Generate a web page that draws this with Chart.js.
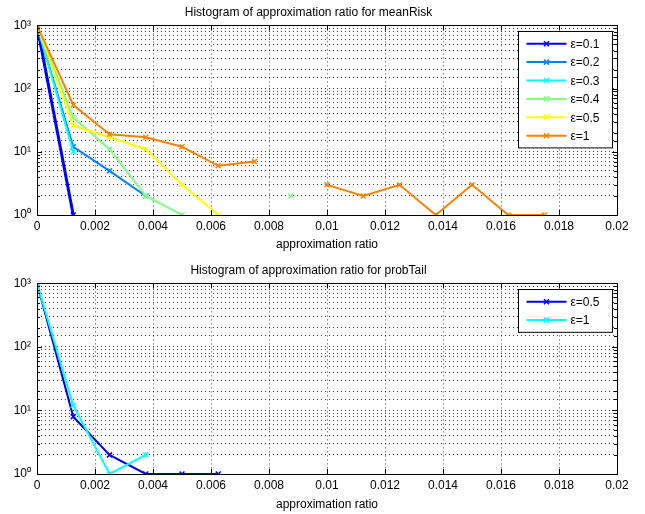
<!DOCTYPE html>
<html>
<head>
<meta charset="utf-8">
<script src="https://cdn.jsdelivr.net/npm/chart.js@4.4.1/dist/chart.umd.min.js"></script>
<style>
  html, body { margin: 0; padding: 0; background: #fff; }
  .wrap { position: absolute; left: 0; width: 645px; height: 257px; }
  #w1 { top: 0; }
  #w2 { top: 257px; }
</style>
</head>
<body>
<div class="wrap" id="w1"><canvas id="c1" width="645" height="257"></canvas></div>
<div class="wrap" id="w2"><canvas id="c2" width="645" height="257"></canvas></div>
<script>
// histogram bin centres (approximation ratio)
const bins = [0, 0.00125, 0.0025, 0.00375, 0.005, 0.00625, 0.0075, 0.00875,
              0.01, 0.01125, 0.0125, 0.01375, 0.015, 0.01625, 0.0175];

// meanRisk counts (null = empty bin, not drawn on log axis)
const mrEps01 = [1000, 1, null, null, null, null, null, null, null, null, null, null, null, null, null];
const mrEps02 = [1000, 12, 5, 2, null, null, null, null, null, null, null, null, null, null, null];
const mrEps03 = [1000, 10, null, null, null, null, null, null, null, null, null, null, null, null, null];
const mrEps04 = [1000, 35, 11, 2, 1, null, null, 2, null, null, null, null, null, null, null];
const mrEps05 = [1000, 26, 17, 11, 3, 1, null, null, null, null, null, null, null, null, null];
const mrEps1  = [1000, 55, 19, 17, 12, 6, 7, null, 3, 2, 3, 1, 3, 1, 1];

// probTail counts
const ptEps05 = [1000, 8, 2, 1, 1, 1, null, null, null, null, null, null, null, null, null];
const ptEps1  = [1000, 12, 1, 2, null, null, null, null, null, null, null, null, null, null, null];

const xTicks = [0, 0.002, 0.004, 0.006, 0.008, 0.01, 0.012, 0.014, 0.016, 0.018, 0.02];
const yDecades = [1, 10, 100, 1000];
const supers = ['\u2070', '\u00b9', '\u00b2', '\u00b3'];

const FONT = "'Liberation Sans', Arial, sans-serif";

function toPoints(arr) {
    return arr.map((v, i) => ({ x: bins[i], y: v }));
}

function makeSet(label, color, arr, i, n, width) {
    return {
        label,
        data: toPoints(arr),
        borderColor: color,
        backgroundColor: color,
        borderWidth: width || 2,
        pointStyle: 'crossRot',
        pointRadius: 3.5,
        pointBorderWidth: 1.5,
        pointHoverRadius: 3.5,
        spanGaps: false,
        tension: 0,
        order: n - i
    };
}

// frame + inward tick marks like matlab axes
const framePlugin = {
    id: 'frame',
    afterDatasetsDraw(chart) {
        const { ctx, chartArea: a, scales } = chart;
        ctx.save();
        ctx.setLineDash([]);
        ctx.strokeStyle = '#000';
        ctx.lineWidth = 1;
        ctx.beginPath();
        scales.x.ticks.forEach(t => {
            const px = Math.round(scales.x.getPixelForValue(t.value)) + 0.5;
            ctx.moveTo(px, a.bottom); ctx.lineTo(px, a.bottom - 5);
            ctx.moveTo(px, a.top); ctx.lineTo(px, a.top + 5);
        });
        scales.y.ticks.forEach(t => {
            const py = Math.round(scales.y.getPixelForValue(t.value)) + 0.5;
            const len = yDecades.includes(t.value) ? 5 : 3;
            ctx.moveTo(a.left, py); ctx.lineTo(a.left + len, py);
            ctx.moveTo(a.right, py); ctx.lineTo(a.right - len, py);
        });
        ctx.stroke();
        ctx.strokeRect(Math.round(a.left) + 0.5, Math.round(a.top) + 0.5,
                       Math.round(a.right - a.left), Math.round(a.bottom - a.top));
        ctx.restore();
    }
};

// legend box inside the top-right of the axes
const boxLegend = {
    id: 'boxLegend',
    afterDraw(chart, args, opts) {
        const { ctx, chartArea: a } = chart;
        const sets = chart.data.datasets;
        const w = opts.width, rowH = opts.rowH;
        const h = sets.length * rowH + opts.padY * 2;
        const x0 = Math.round(a.right - opts.right - w) + 0.5;
        const y0 = Math.round(a.top + opts.top) + 0.5;
        ctx.save();
        ctx.setLineDash([]);
        ctx.fillStyle = '#fff';
        ctx.fillRect(x0, y0, w, h);
        ctx.strokeStyle = '#000';
        ctx.lineWidth = 1;
        ctx.strokeRect(x0, y0, w, h);
        ctx.font = '12px ' + FONT;
        ctx.textBaseline = 'middle';
        ctx.textAlign = 'left';
        sets.forEach((ds, i) => {
            const cy = y0 + opts.padY + rowH * i + rowH / 2;
            ctx.strokeStyle = ds.borderColor;
            ctx.lineWidth = 2;
            ctx.beginPath();
            ctx.moveTo(x0 + 8, cy); ctx.lineTo(x0 + 48, cy);
            ctx.stroke();
            const mx = x0 + 28, r = 2.5;
            ctx.lineWidth = 1.5;
            ctx.beginPath();
            ctx.moveTo(mx - r, cy - r); ctx.lineTo(mx + r, cy + r);
            ctx.moveTo(mx - r, cy + r); ctx.lineTo(mx + r, cy - r);
            ctx.stroke();
            ctx.fillStyle = '#000';
            ctx.fillText(ds.label, x0 + 52, cy + 1);
        });
        ctx.restore();
    }
};

function buildChart(id, title, datasets, xAxisHeight, titlePad, xTitlePad) {
    const grid = {
        color: 'rgba(0,0,0,0.75)',
        lineWidth: 1,
        drawTicks: false
    };
    const border = { display: false, dash: [1, 3] };
    return new Chart(document.getElementById(id), {
        type: 'line',
        data: { datasets },
        options: {
            responsive: false,
            animation: false,
            events: [],
            layout: { padding: { left: 0, right: 28, top: 0, bottom: 0 } },
            plugins: {
                legend: { display: false },
                tooltip: { enabled: false },
                title: {
                    display: true,
                    text: title,
                    color: '#000',
                    font: { family: FONT, size: 12, weight: 'normal' },
                    padding: titlePad
                },
                boxLegend: { width: 94, rowH: 18.4, padY: 3, right: 5, top: 6 }
            },
            scales: {
                x: {
                    type: 'linear',
                    min: 0,
                    max: 0.02,
                    afterBuildTicks: s => { s.ticks = xTicks.map(v => ({ value: v })); },
                    afterFit: s => { s.height = xAxisHeight; },
                    grid,
                    border,
                    ticks: {
                        color: '#000',
                        font: { family: FONT, size: 12 },
                        padding: 4,
                        maxRotation: 0,
                        autoSkip: false,
                        callback: v => String(parseFloat(v.toFixed(3)))
                    },
                    title: {
                        display: true,
                        text: 'approximation ratio',
                        color: '#000',
                        font: { family: FONT, size: 12 },
                        padding: { top: 0, bottom: xTitlePad }
                    }
                },
                y: {
                    type: 'logarithmic',
                    min: 1,
                    max: 1000,
                    afterFit: s => { s.width = 37; },
                    grid,
                    border,
                    ticks: {
                        color: '#000',
                        font: { family: FONT, size: 12 },
                        padding: 6,
                        autoSkip: false,
                        callback: v => {
                            const k = yDecades.indexOf(v);
                            return k >= 0 ? '10' + supers[k] : '';
                        }
                    }
                }
            }
        },
        plugins: [framePlugin, boxLegend]
    });
}

const top6 = [
    ['\u03b5=0.1', '#0000ff', mrEps01, 3],
    ['\u03b5=0.2', '#0080ff', mrEps02],
    ['\u03b5=0.3', '#00ffff', mrEps03],
    ['\u03b5=0.4', '#80ff80', mrEps04],
    ['\u03b5=0.5', '#ffff00', mrEps05],
    ['\u03b5=1', '#ff8000', mrEps1]
];
const bottom2 = [
    ['\u03b5=0.5', '#0000ee', ptEps05],
    ['\u03b5=1', '#00ffff', ptEps1]
];

buildChart('c1', 'Histogram of approximation ratio for meanRisk',
    top6.map((d, i) => makeSet(d[0], d[1], d[2], i, top6.length, d[3])),
    42, { top: 5, bottom: 6 }, 5);

buildChart('c2', 'Histogram of approximation ratio for probTail',
    bottom2.map((d, i) => makeSet(d[0], d[1], d[2], i, bottom2.length, d[3])),
    40, { top: 6, bottom: 6 }, 2);
</script>
</body>
</html>
